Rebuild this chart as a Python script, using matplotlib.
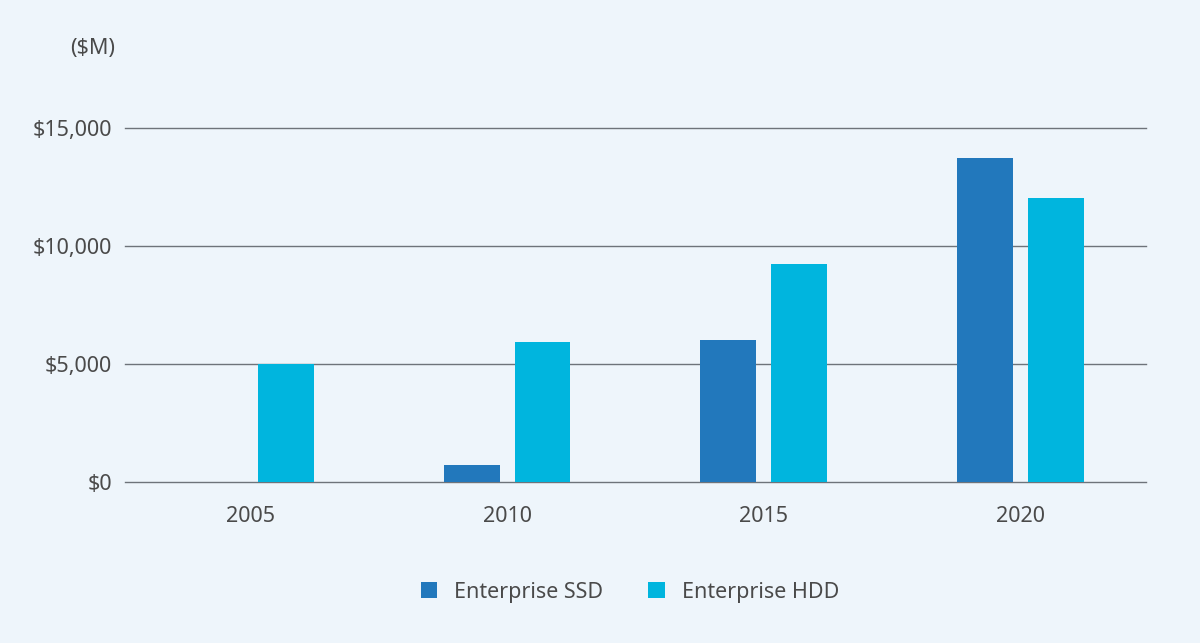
import matplotlib.pyplot as plt
import numpy as np

# data ($M)
years = ["2005", "2010", "2015", "2020"]
ssd = [0, 720, 6020, 13730]
hdd = [5000, 5930, 9240, 12030]
yticks = [0, 5000, 10000, 15000]
ytick_labels = ["$0", "$5,000", "$10,000", "$15,000"]

bg = "#EEF5FB"
c_ssd = "#2278BC"
c_hdd = "#00B5DE"
txt = "#4a4a4a"

plt.rcParams['font.family'] = ['Noto Sans', 'DejaVu Sans']

fig = plt.figure(figsize=(12, 6.43), dpi=100, facecolor=bg)
ax = fig.add_axes([0.104, 0.2504, 0.851, 0.5506], facecolor=bg)

x = np.arange(len(years))
w = 0.218
off = 0.138
ax.bar(x - off, ssd, w, color=c_ssd, label="Enterprise SSD", zorder=3)
ax.bar(x + off, hdd, w, color=c_hdd, label="Enterprise HDD", zorder=3)

ax.set_xlim(-0.49, 3.49)
ax.set_ylim(0, 15000)
ax.set_yticks(yticks)
ax.set_yticklabels(ytick_labels)
ax.set_xticks(x)
ax.set_xticklabels(years)
ax.tick_params(length=0, labelsize=15.5, colors=txt)
ax.tick_params(axis='y', pad=9)
ax.tick_params(axis='x', pad=17)
ax.grid(axis='y', color="#6e737a", linewidth=1, zorder=0, clip_on=False)
for s in ax.spines.values():
    s.set_visible(False)

ax.text(-0.009, 1.225, "($M)", transform=ax.transAxes, ha='right', va='center',
        fontsize=15.5, color=txt)

leg = fig.legend(loc='center', bbox_to_anchor=(0.525, 0.079), ncol=2, frameon=False,
                 fontsize=15.5, handlelength=0.75, handleheight=0.75, columnspacing=2.1,
                 handletextpad=0.8)
for t in leg.get_texts():
    t.set_color(txt)

fig.savefig("out.png", facecolor=bg)
